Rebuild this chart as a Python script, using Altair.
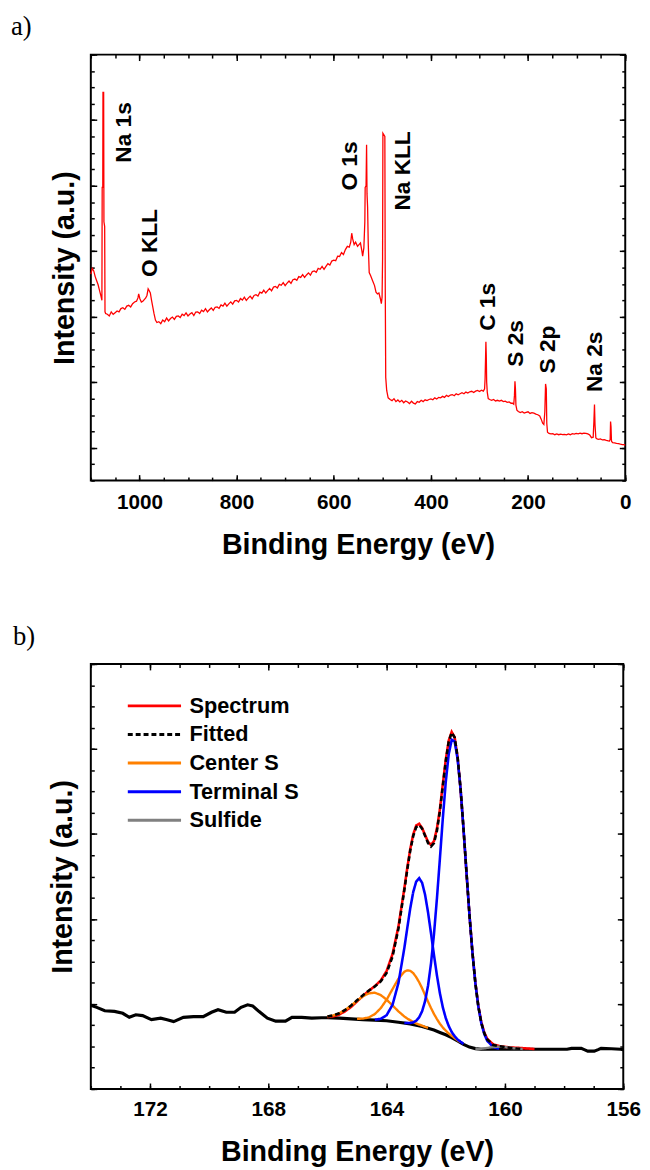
import altair as alt
import pandas as pd

FONT = "Liberation Sans"
SERIF = "Liberation Serif"

# ---------------- panel a: XPS survey (binding energy eV, intensity a.u.) ----------------
survey_pairs = [
    (1100, 12.6), (1097, 12.95), (1094, 12.8), (1091, 12.45), (1088, 12.2), (1085, 11.95),
    (1082, 11.6), (1079, 11.25), (1077.2, 11.0), (1076.6, 17.9), (1075.4, 17.9), (1075, 23.7),
    (1073.6, 23.7), (1073, 15.8), (1071.5, 15.5), (1070.8, 10.3), (1069.5, 10.2), (1066, 10.15),
    (1062, 10.05), (1058, 10.3), (1054, 10.15), (1050, 10.25), (1046, 10.35), (1042, 10.3),
    (1038, 10.5), (1034, 10.55), (1030, 10.45), (1026, 10.65), (1022, 10.7), (1018, 10.6),
    (1014, 10.8), (1010, 10.9), (1006, 10.95), (1003, 11.15), (1001.5, 11.4), (999, 11.1),
    (996, 10.9), (993, 10.95), (990, 11.05), (987, 11.15), (984.5, 11.3), (982, 11.7),
    (980, 11.6), (977.5, 11.45), (975, 11.0), (972.5, 10.6), (970, 10.2), (967, 9.8),
    (964, 9.65), (960, 9.70), (956, 9.58), (952, 9.80), (948, 9.70), (944, 9.92), (940, 9.75),
    (936, 9.89), (932, 9.98), (928, 9.84), (924, 10.02), (920, 10.05), (916, 9.95), (912, 10.16),
    (908, 10.07), (904, 10.24), (900, 10.05), (896, 10.17), (892, 10.25), (888, 10.07),
    (884, 10.29), (880, 10.30), (876, 10.20), (872, 10.40), (868, 10.32), (864, 10.49),
    (860, 10.30), (856, 10.43), (852, 10.54), (848, 10.39), (844, 10.58), (840, 10.60),
    (836, 10.51), (832, 10.72), (828, 10.65), (824, 10.83), (820, 10.65), (816, 10.79),
    (812, 10.91), (808, 10.77), (804, 10.97), (800, 11.00), (796, 10.90), (792, 11.11),
    (788, 11.02), (784, 11.19), (780, 11.00), (776, 11.14), (772, 11.26), (768, 11.10),
    (764, 11.30), (760, 11.35), (756, 11.27), (752, 11.50), (748, 11.44), (744, 11.62),
    (740, 11.45), (736, 11.60), (732, 11.73), (728, 11.58), (724, 11.81), (720, 11.85),
    (716, 11.76), (712, 11.98), (708, 11.92), (704, 12.08), (700, 11.90), (696, 12.05),
    (692, 12.18), (688, 12.04), (684, 12.26), (680, 12.30), (676, 12.22), (672, 12.45),
    (668, 12.40), (664, 12.57), (660, 12.40), (656, 12.55), (652, 12.68), (648, 12.54),
    (644, 12.76), (640, 12.80), (636, 12.72), (632, 12.95), (628, 12.90), (624, 13.07),
    (620, 12.90), (616, 13.08), (612, 13.24), (608, 13.16), (604, 13.40), (600, 13.45),
    (596, 13.42), (592, 13.70), (588, 13.68), (584, 13.92), (580, 13.80), (576, 14.10),
    (572, 14.30), (568, 14.25), (565, 14.55), (563, 15.10), (561, 14.75), (558, 14.40),
    (555, 14.55), (551, 14.30), (548, 14.40), (545, 14.50), (542, 14.00), (540.5, 13.70),
    (538, 14.20), (536, 15.80), (535.3, 17.90), (533.5, 18.00), (532.4, 20.50), (531.5, 17.50),
    (530.3, 16.70), (529, 14.50), (527, 12.70), (524, 12.50), (520, 12.20), (516, 11.90),
    (513, 11.50), (510, 11.40), (507, 11.45), (504, 11.10), (502, 10.80), (500.5, 11.20),
    (499.5, 13.5), (498.8, 21.20), (494.8, 21.00), (494, 12.0), (493, 6.30), (491, 5.50),
    (488, 5.05), (484, 4.95), (480, 4.88), (476, 5.0), (472, 4.82), (468, 4.92), (464, 4.8),
    (460, 4.9), (456, 4.75), (452, 4.86), (448, 4.8), (444, 4.7), (440, 4.84), (436, 4.73),
    (432, 4.68), (428, 4.82), (424, 4.78), (420, 4.9), (416, 4.82), (412, 4.93), (408, 4.88),
    (404, 4.95), (400, 4.98), (396, 4.93), (392, 5.05), (388, 4.98), (384, 5.08), (380, 5.05),
    (376, 5.14), (372, 5.08), (368, 5.2), (364, 5.13), (360, 5.22), (356, 5.25), (352, 5.18),
    (348, 5.3), (344, 5.24), (340, 5.3), (336, 5.36), (332, 5.3), (328, 5.4), (324, 5.34),
    (320, 5.42), (316, 5.45), (312, 5.38), (308, 5.46), (304, 5.5), (300, 5.44), (296, 5.52),
    (292, 5.46), (289.5, 5.6), (288.5, 6.2), (287.5, 7.5), (286.8, 8.47), (286, 7.6),
    (285.2, 6.0), (284, 5.4), (282, 5.0), (279, 4.95), (275, 4.9), (271, 4.95), (267, 4.86),
    (263, 4.9), (259, 4.85), (255, 4.9), (251, 4.82), (247, 4.85), (243, 4.78), (239, 4.8),
    (235, 4.72), (232, 4.72), (229.5, 4.66), (228, 5.2), (227, 6.06), (226, 5.6), (225, 4.6),
    (223, 4.3), (220, 4.22), (216, 4.15), (212, 4.2), (208, 4.12), (204, 4.16), (200, 4.2),
    (196, 4.1), (192, 4.15), (188, 4.12), (184, 4.06), (180, 4.02), (176, 3.95), (173, 3.75),
    (170, 3.5), (167.5, 3.42), (165.5, 4.2), (164, 5.9), (162.5, 5.6), (161.5, 3.5),
    (160, 2.95), (157, 2.88), (153, 2.85), (149, 2.86), (145, 2.8), (141, 2.85), (137, 2.8),
    (133, 2.84), (129, 2.8), (125, 2.82), (121, 2.79), (117, 2.85), (113, 2.8), (109, 2.86),
    (105, 2.84), (101, 2.88), (97, 2.85), (93, 2.9), (89, 2.86), (85, 2.9), (81, 2.88),
    (77, 2.85), (73, 2.78), (69.5, 2.62), (66, 2.65), (64.5, 3.6), (63.3, 4.65), (62.2, 3.4),
    (60.5, 2.6), (58, 2.55), (55, 2.52), (51, 2.54), (47, 2.48), (43, 2.5), (39, 2.45),
    (35, 2.43), (33, 2.4), (31, 2.5), (30.2, 3.61), (29.3, 3.3), (28.3, 2.4), (26, 2.32),
    (22, 2.3), (18, 2.27), (14, 2.25), (10, 2.22), (6, 2.2), (2.6, 2.19), (0, 2.15),
]

peak_names = ["Na 1s", "O KLL", "O 1s", "Na KLL", "C 1s", "S 2s", "S 2p", "Na 2s"]
peak_BE = [1031, 978, 566, 457.6, 283, 224, 159, 63]
peak_int = [21.25, 14.5, 19.2, 18.9, 10.6, 8.37, 8.0, 7.25]

a_x_major = [0, 200, 400, 600, 800, 1000]
a_x_minor = list(range(0, 1101, 50))
a_y_major = [2, 6, 10, 14, 18, 22, 26]
a_y_minor = list(range(0, 27))

# ---------------- panel b: S 2p high resolution ----------------
fit_BE = [166.0, 165.8, 165.6, 165.4, 165.2, 165.0, 164.8, 164.6, 164.4, 164.2, 164.0, 163.8,
          163.6, 163.4, 163.3, 163.2, 163.1, 163.0, 162.9, 162.8, 162.7, 162.6, 162.5, 162.4,
          162.3, 162.2, 162.1, 162.0, 161.9, 161.8, 161.7, 161.6, 161.5, 161.4, 161.3, 161.2,
          161.1, 161.0, 160.9, 160.8, 160.7, 160.6, 160.4, 160.2, 160.0, 159.8, 159.6, 159.4]
N = None
center_S_a = [3.41, 3.46, 3.56, 3.72, 3.92, 4.15, 4.36, 4.50, 4.53, 4.42, 4.20, 3.93,
              3.65, 3.41, 3.31, 3.23, 3.15, 3.08, 3.03, 2.98, 2.92, 2.88] + [N] * 26
center_S_b = [N] * 5 + [3.30, 3.31, 3.37, 3.52, 3.80, 4.20, 4.70, 5.19, 5.52, 5.58, 5.56, 5.45,
                        5.26, 5.02, 4.74, 4.42, 4.11, 3.81, 3.53, 3.29, 3.07, 2.89, 2.74, 2.61,
                        2.50, 2.39, 2.29, 2.20] + [N] * 15
terminal_S_a = [N] * 8 + [3.26, 3.30, 3.47, 3.96, 4.99, 6.64, 7.59, 8.51, 9.27, 9.76, 9.92, 9.70,
                          9.14, 8.31, 7.33, 6.31, 5.35, 4.51, 3.84, 3.33, 2.96, 2.68, 2.48, 2.33,
                          2.22, 2.12] + [N] * 14
terminal_S_b = [N] * 13 + [3.11, 3.10, 3.11, 3.13, 3.21, 3.37, 3.66, 4.13, 4.86, 5.90, 7.27, 8.95,
                           10.82, 12.74, 14.46, 15.76, 16.43, 16.35, 15.53, 14.09, 12.23, 10.19,
                           8.20, 6.43, 4.98, 3.88, 3.10, 2.59, 2.27, 1.97, 1.89] + [N] * 4
sulfide = [N] * 37 + [1.90, 1.88, 1.89, 1.91, 1.93, 1.97, 1.99, 1.97, 1.93, 1.90, 1.88]
fitted = [3.41, 3.46, 3.56, 3.72, 3.93, 4.17, 4.41, 4.63, 4.82, 5.06, 5.46, 6.23,
          7.55, 9.37, 10.34, 11.23, 11.91, 12.32, 12.42, 12.25, 11.91, 11.57, 11.41, 11.57,
          12.14, 13.07, 14.25, 15.43, 16.35, 16.77, 16.54, 15.63, 14.14, 12.25, 10.20, 8.20,
          6.43, 4.98, 3.88, 3.12, 2.63, 2.33, 2.07, 2.01, 1.97, 1.93, 1.90, 1.88]
spectrum_BE = fit_BE + [159.2, 159.0]
spectrum = [3.38, 3.42, 3.50, 3.66, 3.86, 4.12, 4.38, 4.62, 4.84, 5.10, 5.55, 6.35,
            7.65, 9.45, 10.42, 11.30, 11.98, 12.40, 12.48, 12.28, 11.95, 11.63, 11.48, 11.66,
            12.25, 13.15, 14.35, 15.50, 16.40, 16.80, 16.55, 15.60, 14.10, 12.20, 10.15, 8.20,
            6.45, 5.00, 3.92, 3.15, 2.66, 2.36, 2.10, 2.02, 1.98, 1.95, 1.94, 1.92, 1.90, 1.88]

background_pairs = [
    (174.0, 3.94), (173.8, 3.84), (173.53, 3.68), (173.2, 3.65), (172.92, 3.56), (172.7, 3.37),
    (172.48, 3.49), (172.25, 3.45), (171.95, 3.26), (171.64, 3.33), (171.42, 3.26), (171.2, 3.17),
    (170.87, 3.37), (170.53, 3.40), (170.2, 3.40), (169.92, 3.61), (169.7, 3.73), (169.42, 3.61),
    (169.14, 3.61), (168.92, 3.84), (168.7, 3.96), (168.53, 3.91), (168.31, 3.64), (168.03, 3.33),
    (167.75, 3.19), (167.42, 3.19), (167.2, 3.37), (166.87, 3.37), (166.53, 3.33), (166.2, 3.35),
    (166.0, 3.35), (165.6, 3.33), (165.2, 3.30), (164.8, 3.26), (164.4, 3.24), (164.0, 3.21),
    (163.6, 3.14), (163.2, 3.06), (162.8, 2.94), (162.4, 2.77), (162.2, 2.66), (162.0, 2.55),
    (161.8, 2.42), (161.6, 2.26), (161.4, 2.10), (161.2, 1.97), (161.0, 1.90), (160.8, 1.87),
    (160.09, 1.87), (158.98, 1.87), (157.9, 1.87), (157.75, 1.91), (157.42, 1.91), (157.3, 1.84),
    (157.2, 1.78), (156.98, 1.78), (156.85, 1.85), (156.75, 1.91), (156.4, 1.89), (156.09, 1.87),
    (156.0, 1.85),
]

legend_order = ["Spectrum", "Fitted", "Center S", "Terminal S", "Sulfide"]
legend_colors = ["#ff0000", "#000000", "#ff8000", "#0000ff", "#808080"]
legend_dashes = [[1, 0], [5, 3], [1, 0], [1, 0], [1, 0]]

b_x_major = [156, 160, 164, 168, 172]
b_x_minor = list(range(156, 175))
b_y_major = [0, 4, 8, 12, 16, 20]
b_y_minor = list(range(0, 21))

# ---------------- helpers ----------------
def ticks_axis(orient, values, size):
    return alt.Axis(orient=orient, values=values, tickSize=size, offset=-size,
                    tickWidth=1.5, tickColor="black", labels=False, domain=False,
                    grid=False, title=None)


def x_main(values, label_pad, title_pad):
    return alt.Axis(orient="bottom", values=values, tickSize=6, offset=-6, tickWidth=1.5,
                    tickColor="black", domain=False, grid=False, format="d",
                    labelFont=FONT, labelFontSize=21, labelFontWeight="bold",
                    labelColor="black", labelPadding=label_pad, labelFlush=False,
                    labelOverlap=False, title="Binding Energy (eV)", titleFont=FONT,
                    titleFontSize=29, titleFontWeight="bold", titleColor="black",
                    titlePadding=title_pad)


def y_main(values, title_pad):
    return alt.Axis(orient="left", values=values, tickSize=6, offset=-6, tickWidth=1.5,
                    tickColor="black", domain=False, grid=False, labels=False,
                    title="Intensity (a.u.)", titleFont=FONT, titleFontSize=29,
                    titleFontWeight="bold", titleColor="black", titlePadding=title_pad)


def frame_layers(df, xs, ys, xmaj, xmin, ymaj, ymin):
    base = alt.Chart(df).mark_line(opacity=0)
    return [
        base.encode(x=alt.X("E:Q", scale=xs, axis=ticks_axis("bottom", xmin, 3.5)),
                    y=alt.Y("I:Q", scale=ys, axis=ticks_axis("left", ymin, 3.5))),
        base.encode(x=alt.X("E:Q", scale=xs, axis=ticks_axis("top", xmaj, 6)),
                    y=alt.Y("I:Q", scale=ys, axis=ticks_axis("right", ymaj, 6))),
        base.encode(x=alt.X("E:Q", scale=xs, axis=ticks_axis("top", xmin, 3.5)),
                    y=alt.Y("I:Q", scale=ys, axis=ticks_axis("right", ymin, 3.5))),
    ]


# ---------------- panel a ----------------
df_a = pd.DataFrame({"E": [p[0] for p in survey_pairs], "I": [p[1] for p in survey_pairs]})
df_a["k"] = range(len(df_a))
df_lab = pd.DataFrame({"E": peak_BE, "I": peak_int, "name": peak_names})

sx_a = alt.Scale(domain=[0, 1100], reverse=True, nice=False, zero=False)
sy_a = alt.Scale(domain=[0, 26], nice=False, zero=False)

line_a = alt.Chart(df_a).mark_line(color="#ff0000", strokeWidth=1.3).encode(
    x=alt.X("E:Q", scale=sx_a, axis=x_main(a_x_major, 11, 19)),
    y=alt.Y("I:Q", scale=sy_a, axis=y_main(a_y_major, 11)),
    order="k:Q",
)
text_a = alt.Chart(df_lab).mark_text(angle=270, font=FONT, fontSize=23, fontWeight="bold",
                                     color="black").encode(
    x=alt.X("E:Q", scale=sx_a, axis=None),
    y=alt.Y("I:Q", scale=sy_a, axis=None),
    text="name:N",
)
panel_a = alt.layer(line_a, text_a, *frame_layers(df_a, sx_a, sy_a, a_x_major, a_x_minor,
                                                  a_y_major, a_y_minor)).resolve_axis(
    x="independent", y="independent").properties(
    width=542, height=432,
    title=alt.TitleParams("a)", anchor="start", frame="group", dx=-81, offset=13,
                          font=SERIF, fontSize=27, fontWeight="normal", color="black"))

# ---------------- panel b ----------------
rows = []


def add(series, part, E_list, vals):
    for k, (e, v) in enumerate(zip(E_list, vals)):
        if v is not None:
            rows.append({"E": e, "I": v, "series": series, "part": part, "k": k})


add("Spectrum", "s", spectrum_BE, spectrum)
add("Fitted", "f", fit_BE, fitted)
add("Center S", "c1", fit_BE, center_S_a)
add("Center S", "c2", fit_BE, center_S_b)
add("Terminal S", "t1", fit_BE, terminal_S_a)
add("Terminal S", "t2", fit_BE, terminal_S_b)
add("Sulfide", "u", fit_BE, sulfide)
df_b = pd.DataFrame(rows)

df_bg = pd.DataFrame({"E": [p[0] for p in background_pairs], "I": [p[1] for p in background_pairs]})
df_bg["k"] = range(len(df_bg))

sx_b = alt.Scale(domain=[156, 174], reverse=True, nice=False, zero=False)
sy_b = alt.Scale(domain=[0, 20], nice=False, zero=False)

# legend line: custom path scaled by sqrt(size)/2 = 10 -> 54 px long
leg = alt.Legend(orient="none", legendX=53, legendY=31, title=None, labelFont=FONT,
                 labelFontSize=22, labelFontWeight="bold", labelColor="black",
                 symbolType="M-2.7,0L2.7,0", symbolSize=400, symbolStrokeWidth=3,
                 labelOffset=24, rowPadding=6, padding=0)
color_enc = alt.Color("series:N", scale=alt.Scale(domain=legend_order, range=legend_colors),
                      legend=leg)
dash_enc = alt.StrokeDash("series:N", scale=alt.Scale(domain=legend_order, range=legend_dashes),
                          legend=leg)

bg_b = alt.Chart(df_bg).mark_line(color="black", strokeWidth=3.2).encode(
    x=alt.X("E:Q", scale=sx_b, axis=x_main(b_x_major, 10, 19)),
    y=alt.Y("I:Q", scale=sy_b, axis=y_main(b_y_major, 13)),
    order="k:Q",
)


def series_layer(name, width):
    return alt.Chart(df_b[df_b["series"] == name]).mark_line(strokeWidth=width).encode(
        x=alt.X("E:Q", scale=sx_b, axis=None),
        y=alt.Y("I:Q", scale=sy_b, axis=None),
        color=color_enc,
        strokeDash=dash_enc,
        detail="part:N",
        order="k:Q",
    )


panel_b = alt.layer(
    bg_b,
    series_layer("Spectrum", 2.6),
    series_layer("Center S", 2.4),
    series_layer("Terminal S", 2.6),
    series_layer("Sulfide", 2.4),
    series_layer("Fitted", 2.6),
    *frame_layers(df_bg, sx_b, sy_b, b_x_major, b_x_minor, b_y_major, b_y_minor),
).resolve_axis(x="independent", y="independent").properties(
    width=540, height=431,
    title=alt.TitleParams("b)", anchor="start", frame="group", dx=-79, offset=13,
                          font=SERIF, fontSize=27, fontWeight="normal", color="black"))

chart = alt.vconcat(panel_a, panel_b, spacing=62).resolve_legend(
    color="independent", strokeDash="independent"
).properties(
    padding={"left": 2, "top": -4, "right": 0, "bottom": 0}
).configure_view(stroke="black", strokeWidth=2)

chart.save("out.html", embed_options={"renderer": "svg", "actions": False})
